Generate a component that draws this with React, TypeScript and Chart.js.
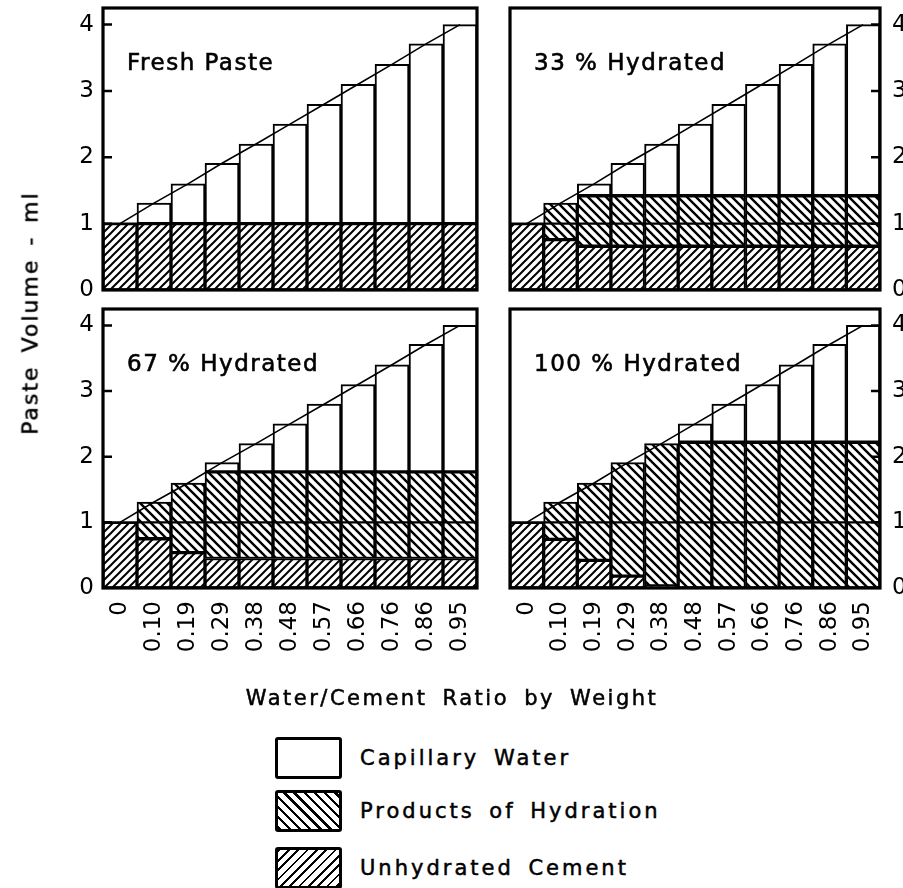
import React, { useEffect, useRef } from "react";
import Chart from "chart.js/auto";

// ---------- data ----------
const CATEGORIES = ["0", "0.10", "0.19", "0.29", "0.38", "0.48", "0.57", "0.66", "0.76", "0.86", "0.95"];
const Y_TICKS = [0, 1, 2, 3, 4];
const Y_MAX = 4.25;
const FRESH_CEMENT_LEVEL = 1;
const TOTAL_VOLUME = [1.0, 1.31, 1.6, 1.91, 2.2, 2.5, 2.8, 3.1, 3.4, 3.71, 4.0];

const PANEL_TITLES = ["Fresh Paste", "33 % Hydrated", "67 % Hydrated", "100 % Hydrated"];
const SERIES_NAMES = ["Capillary Water", "Products of Hydration", "Unhydrated Cement"];
const X_TITLE = "Water/Cement Ratio by Weight";
const Y_TITLE = "Paste Volume - ml";

const FRESH_UNHYDRATED = [1, 1, 1, 1, 1, 1, 1, 1, 1, 1, 1];
const FRESH_PRODUCTS = [0, 0, 0, 0, 0, 0, 0, 0, 0, 0, 0];
const FRESH_WATER = [0, 0.31, 0.6, 0.91, 1.2, 1.5, 1.8, 2.1, 2.4, 2.71, 3.0];

const H33_UNHYDRATED = [1.0, 0.76, 0.66, 0.66, 0.66, 0.66, 0.66, 0.66, 0.66, 0.66, 0.66];
const H33_PRODUCTS = [0, 0.55, 0.76, 0.76, 0.76, 0.76, 0.76, 0.76, 0.76, 0.76, 0.76];
const H33_WATER = [0, 0, 0.18, 0.49, 0.78, 1.08, 1.38, 1.68, 1.98, 2.29, 2.58];

const H67_UNHYDRATED = [1.0, 0.75, 0.54, 0.45, 0.45, 0.45, 0.45, 0.45, 0.45, 0.45, 0.45];
const H67_PRODUCTS = [0, 0.56, 1.06, 1.32, 1.32, 1.32, 1.32, 1.32, 1.32, 1.32, 1.32];
const H67_WATER = [0, 0, 0, 0.14, 0.43, 0.73, 1.03, 1.33, 1.63, 1.94, 2.23];

const H100_UNHYDRATED = [1.0, 0.74, 0.42, 0.18, 0.03, 0, 0, 0, 0, 0, 0];
const H100_PRODUCTS = [0, 0.57, 1.18, 1.73, 2.17, 2.22, 2.22, 2.22, 2.22, 2.22, 2.22];
const H100_WATER = [0, 0, 0, 0, 0, 0.28, 0.58, 0.88, 1.18, 1.49, 1.78];

const FONT = '"DejaVu Sans", "Liberation Sans", sans-serif';

// ---------- helpers ----------
function makeHatch(size: number, lw: number, dir: "up" | "down"): CanvasPattern | string {
  const tile = document.createElement("canvas");
  tile.width = size;
  tile.height = size;
  const c = tile.getContext("2d")!;
  c.fillStyle = "#fff";
  c.fillRect(0, 0, size, size);
  c.strokeStyle = "#000";
  c.lineWidth = lw;
  c.beginPath();
  if (dir === "up") {
    c.moveTo(0, size); c.lineTo(size, 0);
    c.moveTo(-2, 2); c.lineTo(2, -2);
    c.moveTo(size - 2, size + 2); c.lineTo(size + 2, size - 2);
  } else {
    c.moveTo(0, 0); c.lineTo(size, size);
    c.moveTo(size - 2, -2); c.lineTo(size + 2, 2);
    c.moveTo(-2, size - 2); c.lineTo(2, size + 2);
  }
  c.stroke();
  const p = document.createElement("canvas").getContext("2d")!.createPattern(tile, "repeat");
  return p || "#ccc";
}

const decorPlugin = {
  id: "panelDecor",
  afterDatasetsDraw(chart: any, _args: any, opts: any) {
    const { ctx, chartArea: a, scales } = chart;
    const py = scales.y.getPixelForValue(opts.refValue);
    ctx.save();
    ctx.strokeStyle = "#000";
    ctx.lineWidth = 2.2;
    ctx.beginPath();
    ctx.moveTo(a.left, py);
    ctx.lineTo(a.right, py);
    ctx.stroke();
    ctx.restore();
  },
  afterDraw(chart: any, _args: any, opts: any) {
    const { ctx, chartArea: a, scales } = chart;
    ctx.save();
    ctx.strokeStyle = "#000";
    ctx.lineWidth = 3.2;
    ctx.strokeRect(a.left, a.top, a.right - a.left, a.bottom - a.top);
    ctx.lineWidth = 2.5;
    ctx.beginPath();
    Y_TICKS.forEach((v) => {
      if (v === 0) return;
      const py = scales.y.getPixelForValue(v);
      if (opts.side === "left") {
        ctx.moveTo(a.left, py);
        ctx.lineTo(a.left + 9, py);
      } else {
        ctx.moveTo(a.right, py);
        ctx.lineTo(a.right - 9, py);
      }
    });
    ctx.stroke();
    ctx.fillStyle = "#000";
    ctx.font = `23px ${FONT}`;
    try { (ctx as any).letterSpacing = "1.5px"; } catch (e) { /* ignore */ }
    ctx.textBaseline = "alphabetic";
    ctx.textAlign = "left";
    ctx.lineWidth = 0.6;
    ctx.strokeStyle = "#000";
    ctx.fillText(opts.title, a.left + 24, a.top + 62);
    ctx.strokeText(opts.title, a.left + 24, a.top + 62);
    ctx.restore();
  },
};

type PanelSpec = {
  title: string;
  unhydrated: number[];
  products: number[];
  water: number[];
  left: number;
  top: number;
  width: number;
  height: number;
  padding: { left: number; right: number; top: number; bottom: number };
  side: "left" | "right";
  showX: boolean;
};

function Panel({ spec }: { spec: PanelSpec }) {
  const ref = useRef<HTMLCanvasElement>(null);
  useEffect(() => {
    if (!ref.current) return;
    const unhydPattern = makeHatch(8, 2, "up");
    const prodPattern = makeHatch(9, 2.4, "down");
    const barCommon = {
      type: "bar" as const,
      borderColor: "#000",
      borderWidth: 2,
      borderSkipped: false,
      barPercentage: 1,
      categoryPercentage: 1,
      order: 1,
      stack: "paste",
    };
    const chart = new Chart(ref.current, {
      type: "bar",
      data: {
        labels: CATEGORIES,
        datasets: [
          { ...barCommon, label: SERIES_NAMES[2], data: spec.unhydrated, backgroundColor: unhydPattern as any },
          { ...barCommon, label: SERIES_NAMES[1], data: spec.products, backgroundColor: prodPattern as any },
          { ...barCommon, label: SERIES_NAMES[0], data: spec.water, backgroundColor: "#fff" },
          {
            type: "line" as const,
            label: "Total",
            data: TOTAL_VOLUME,
            borderColor: "#000",
            borderWidth: 1.6,
            pointRadius: 0,
            fill: false,
            order: 0,
            stack: "total",
          } as any,
        ],
      },
      options: {
        responsive: false,
        animation: false,
        layout: { padding: spec.padding },
        plugins: {
          legend: { display: false },
          tooltip: { enabled: false },
          panelDecor: { title: spec.title, side: spec.side, refValue: FRESH_CEMENT_LEVEL },
        } as any,
        scales: {
          x: {
            type: "category",
            stacked: true,
            display: spec.showX,
            grid: { display: false, drawTicks: false },
            border: { display: false },
            ticks: {
              color: "#000",
              font: { family: FONT, size: 23 },
              minRotation: 90,
              maxRotation: 90,
              autoSkip: false,
              padding: 13,
            },
            afterFit: (s: any) => {
              s.height = spec.showX ? 100 : 0;
              s.paddingLeft = 0;
              s.paddingRight = 0;
            },
          },
          y: {
            type: "linear",
            stacked: true,
            position: spec.side,
            min: 0,
            max: Y_MAX,
            grid: { display: false, drawTicks: false },
            border: { display: false },
            afterBuildTicks: (s: any) => {
              s.ticks = Y_TICKS.map((v) => ({ value: v }));
            },
            ticks: {
              color: "#000",
              font: { family: FONT, size: 23 },
              padding: spec.side === "left" ? 9 : 12,
              callback: (v: any) => String(v),
            },
            afterFit: (s: any) => {
              s.width = spec.side === "left" ? 103 : 23;
              s.paddingTop = 0;
              s.paddingBottom = 0;
            },
          },
        },
      } as any,
      plugins: [decorPlugin as any],
    });
    return () => chart.destroy();
  }, [spec]);
  return (
    <canvas
      ref={ref}
      width={spec.width}
      height={spec.height}
      style={{ position: "absolute", left: spec.left, top: spec.top, display: "block" }}
    />
  );
}

const PANELS: PanelSpec[] = [
  {
    title: PANEL_TITLES[0], unhydrated: FRESH_UNHYDRATED, products: FRESH_PRODUCTS, water: FRESH_WATER,
    left: 0, top: 0, width: 490, height: 300,
    padding: { left: 0, right: 13, top: 8, bottom: 10 }, side: "left", showX: false,
  },
  {
    title: PANEL_TITLES[1], unhydrated: H33_UNHYDRATED, products: H33_PRODUCTS, water: H33_WATER,
    left: 490, top: 0, width: 413, height: 300,
    padding: { left: 20, right: 0, top: 8, bottom: 10 }, side: "right", showX: false,
  },
  {
    title: PANEL_TITLES[2], unhydrated: H67_UNHYDRATED, products: H67_PRODUCTS, water: H67_WATER,
    left: 0, top: 300, width: 490, height: 400,
    padding: { left: 0, right: 13, top: 9, bottom: 12 }, side: "left", showX: true,
  },
  {
    title: PANEL_TITLES[3], unhydrated: H100_UNHYDRATED, products: H100_PRODUCTS, water: H100_WATER,
    left: 490, top: 300, width: 413, height: 400,
    padding: { left: 20, right: 0, top: 9, bottom: 12 }, side: "right", showX: true,
  },
];

const LEGEND_SWATCHES = [
  "#fff",
  "repeating-linear-gradient(45deg, #000 0px, #000 2.4px, #fff 2.4px, #fff 7.2px)",
  "repeating-linear-gradient(135deg, #000 0px, #000 2px, #fff 2px, #fff 6.6px)",
];

export default function App() {
  useEffect(() => {
    document.body.style.margin = "0";
  }, []);
  const textStyle: React.CSSProperties = {
    position: "absolute",
    fontFamily: FONT,
    color: "#000",
    whiteSpace: "nowrap",
    WebkitTextStroke: "0.5px #000",
  };
  return (
    <div style={{ position: "relative", width: 903, height: 888, overflow: "hidden", background: "#fff" }}>
      {PANELS.map((p, i) => (
        <Panel key={i} spec={p} />
      ))}
      <div
        style={{
          ...textStyle,
          left: 30,
          top: 313,
          fontSize: 22,
          letterSpacing: "2px",
          wordSpacing: "4px",
          transform: "translate(-50%, -50%) rotate(-90deg)",
        }}
      >
        {Y_TITLE}
      </div>
      <div
        style={{
          ...textStyle,
          left: 452,
          top: 686,
          fontSize: 21,
          letterSpacing: "2.5px",
          wordSpacing: "6px",
          transform: "translateX(-50%)",
        }}
      >
        {X_TITLE}
      </div>
      {SERIES_NAMES.map((name, i) => {
        const top = [737, 790, 847][i];
        return (
          <React.Fragment key={name}>
            <div
              style={{
                position: "absolute",
                left: 275,
                top,
                width: 61,
                height: 36,
                border: "3px solid #000",
                borderRadius: 3,
                background: LEGEND_SWATCHES[i],
              }}
            />
            <div
              style={{
                ...textStyle,
                left: 360,
                top: top + 7,
                fontSize: 21,
                lineHeight: "28px",
                letterSpacing: "3px",
                wordSpacing: "5px",
              }}
            >
              {name}
            </div>
          </React.Fragment>
        );
      })}
    </div>
  );
}
